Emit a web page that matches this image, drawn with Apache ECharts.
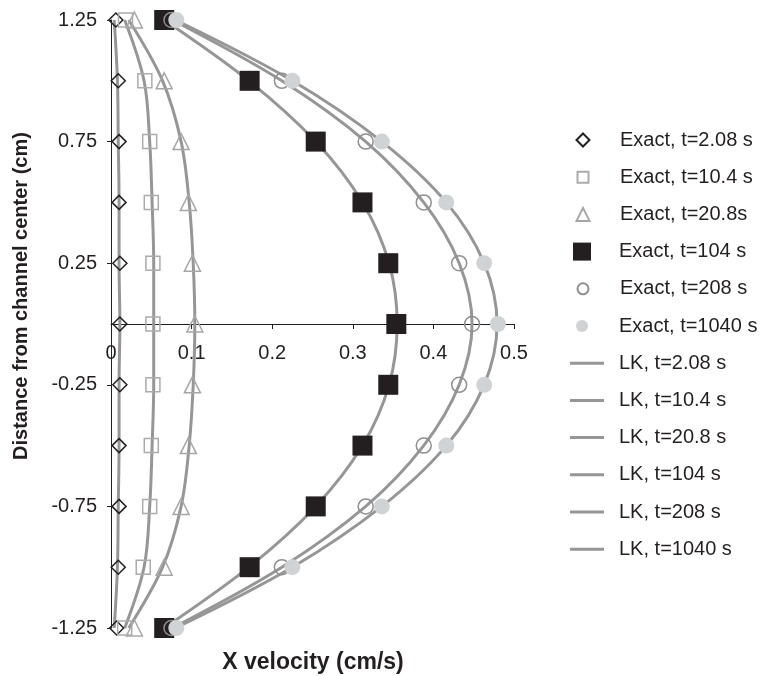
<!DOCTYPE html>
<html>
<head>
<meta charset="utf-8">
<script src="https://cdn.jsdelivr.net/npm/echarts@6/dist/echarts.min.js"></script>
<style>
  html, body { margin: 0; padding: 0; background: #fff; }
  #main { width: 761px; height: 676px; }
</style>
</head>
<body>
<div id="main"></div>
<script>
// distance from channel center (cm), top to bottom
const yPos = [1.25, 1.0, 0.75, 0.5, 0.25, 0, -0.25, -0.5, -0.75, -1.0, -1.25]
const yTicks = [1.25, 0.75, 0.25, -0.25, -0.75, -1.25]

// exact solution, x velocity (cm/s)
const exact2 = [0.006, 0.009, 0.010, 0.010, 0.011, 0.011, 0.011, 0.010, 0.010, 0.009, 0.007]
const exact10 = [0.018, 0.042, 0.048, 0.050, 0.052, 0.052, 0.052, 0.050, 0.048, 0.040, 0.017]
const exact20 = [0.029, 0.066, 0.087, 0.096, 0.101, 0.104, 0.101, 0.096, 0.087, 0.066, 0.029]
const exact104 = [0.066, 0.172, 0.254, 0.312, 0.344, 0.354, 0.344, 0.312, 0.254, 0.172, 0.066]
const exact208 = [0.075, 0.212, 0.316, 0.388, 0.432, 0.448, 0.432, 0.388, 0.316, 0.212, 0.075]
const exact1040 = [0.081, 0.225, 0.336, 0.416, 0.463, 0.480, 0.463, 0.416, 0.336, 0.225, 0.081]

// LK model
const lk2 = [0.004, 0.008, 0.009, 0.010, 0.010, 0.011, 0.010, 0.010, 0.009, 0.008, 0.004]
const lk10 = [0.017, 0.041, 0.048, 0.051, 0.053, 0.053, 0.053, 0.051, 0.048, 0.041, 0.017]
const lk20 = [0.022, 0.064, 0.087, 0.097, 0.102, 0.104, 0.102, 0.097, 0.087, 0.064, 0.022]
const lk104 = [0.066, 0.171, 0.254, 0.312, 0.345, 0.355, 0.345, 0.312, 0.254, 0.171, 0.066]
const lk208 = [0.076, 0.212, 0.316, 0.388, 0.432, 0.448, 0.432, 0.388, 0.316, 0.212, 0.076]
const lk1040 = [0.080, 0.225, 0.336, 0.416, 0.463, 0.479, 0.463, 0.416, 0.336, 0.225, 0.080]

const FONT = '"Liberation Sans", Arial, sans-serif'
const INK = '#231f20'
const LINE = '#969696'

const pairs = xs => xs.map((x, i) => [x, yPos[i]])

const exactSeries = [
  { name: 'Exact, t=2.08 s', data: exact2, symbol: 'diamond', size: 14, legendSize: 13,
    style: { color: 'rgba(0,0,0,0)', borderColor: INK, borderWidth: 1.5 } },
  { name: 'Exact, t=10.4 s', data: exact10, symbol: 'rect', size: 14, legendSize: 11,
    style: { color: 'rgba(0,0,0,0)', borderColor: '#ababab', borderWidth: 1.5 } },
  { name: 'Exact, t=20.8s', data: exact20, symbol: 'triangle', size: 16, legendSize: 13,
    style: { color: 'rgba(0,0,0,0)', borderColor: '#a6a6a6', borderWidth: 1.5 } },
  { name: 'Exact, t=104 s', data: exact104, symbol: 'rect', size: 20, legendSize: 18,
    style: { color: INK } },
  { name: 'Exact, t=208 s', data: exact208, symbol: 'circle', size: 15, legendSize: 11,
    style: { color: 'rgba(0,0,0,0)', borderColor: '#8f8f8f', borderWidth: 1.5 } },
  { name: 'Exact, t=1040 s', data: exact1040, symbol: 'circle', size: 16, legendSize: 12,
    style: { color: '#d1d2d3' } }
]

const lkSeries = [
  { name: 'LK, t=2.08 s', data: lk2 },
  { name: 'LK, t=10.4 s', data: lk10 },
  { name: 'LK, t=20.8 s', data: lk20 },
  { name: 'LK, t=104 s', data: lk104 },
  { name: 'LK, t=208 s', data: lk208 },
  { name: 'LK, t=1040 s', data: lk1040 }
]

let series = []
lkSeries.forEach(s => {
  series.push({
    name: s.name,
    type: 'line',
    data: pairs(s.data),
    smooth: 0.35,
    symbol: 'none',
    z: 2,
    lineStyle: { color: LINE, width: 3 },
    itemStyle: { color: LINE }
  })
})
exactSeries.forEach(s => {
  series.push({
    name: s.name,
    type: 'scatter',
    data: pairs(s.data),
    symbol: s.symbol,
    symbolSize: s.size,
    z: 3,
    itemStyle: Object.assign({ opacity: 1 }, s.style)
  })
})

// one legend per row so each marker keeps its own icon size
let legends = []
const rowTop = 140, rowGap = 37.2
const iconX = 582, textX = 619
exactSeries.forEach((s, i) => {
  let w = s.legendSize
  legends.push({
    data: [s.name],
    left: iconX - w / 2,
    top: rowTop + i * rowGap - 10,
    padding: 0,
    itemWidth: w,
    itemHeight: w,
    textStyle: {
      fontFamily: FONT, fontSize: 20, lineHeight: 20, color: INK,
      padding: [0, 0, 0, textX - (iconX + w / 2) - 5]
    }
  })
})
lkSeries.forEach((s, i) => {
  legends.push({
    data: [{ name: s.name, icon: 'rect' }],
    left: 570,
    top: rowTop + (i + 6) * rowGap - 10,
    padding: 0,
    itemWidth: 34,
    itemHeight: 3,
    itemStyle: { color: LINE },
    textStyle: { fontFamily: FONT, fontSize: 20, lineHeight: 20, color: INK, padding: [0, 0, 0, 10] }
  })
})

const option = {
  animation: false,
  backgroundColor: '#fff',
  grid: { left: 111, right: 247, top: 20, bottom: 48 },
  legend: legends,
  xAxis: {
    type: 'value',
    min: 0,
    max: 0.5,
    interval: 0.1,
    position: 'bottom',
    offset: -304,
    splitLine: { show: false },
    axisLine: { onZero: false, lineStyle: { color: INK, width: 1 } },
    axisTick: { show: true, length: 5, lineStyle: { color: INK } },
    axisLabel: { fontFamily: FONT, fontSize: 20, color: INK, margin: 19 }
  },
  yAxis: {
    type: 'value',
    min: -1.25,
    max: 1.25,
    interval: 0.25,
    splitLine: { show: false },
    axisLine: { show: true, onZero: false, lineStyle: { color: INK, width: 1 } },
    axisTick: { show: true, length: 4, customValues: yTicks, lineStyle: { color: INK } },
    axisLabel: { fontFamily: FONT, fontSize: 20, color: INK, margin: 14, customValues: yTicks }
  },
  graphic: [
    {
      type: 'text',
      x: 21,
      y: 296,
      rotation: Math.PI / 2,
      style: {
        text: 'Distance from channel center (cm)',
        font: 'bold 20px ' + FONT,
        fill: INK,
        align: 'center',
        verticalAlign: 'middle'
      }
    },
    {
      type: 'text',
      x: 313,
      y: 663,
      style: {
        text: 'X velocity (cm/s)',
        font: 'bold 23px ' + FONT,
        fill: INK,
        align: 'center',
        verticalAlign: 'middle'
      }
    }
  ],
  series: series
}

let chart = echarts.init(document.getElementById('main'))
chart.setOption(option)
</script>
</body>
</html>
